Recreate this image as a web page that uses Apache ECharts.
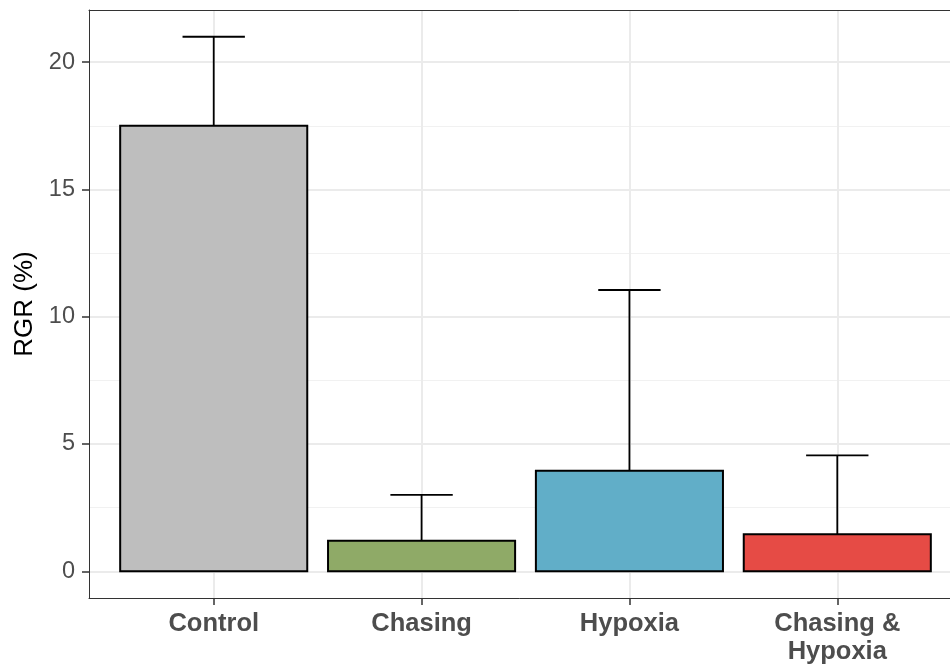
<!DOCTYPE html>
<html>
<head>
<meta charset="utf-8">
<script src="https://cdn.jsdelivr.net/npm/echarts@6/dist/echarts.min.js"></script>
<style>html,body{margin:0;padding:0;background:#fff;}#c{width:950px;height:667px;}</style>
</head>
<body>
<div id="c"></div>
<script>
const categories = ['Control', 'Chasing', 'Hypoxia', 'Chasing &\nHypoxia'];
const means = [17.5, 1.2, 3.95, 1.45];
const upper = [21.0, 3.0, 11.05, 4.55];
const yTicks = [0, 5, 10, 15, 20];
const yMinor = [2.5, 7.5, 12.5, 17.5];
const barColors = ['#BEBEBE', '#8FAA67', '#61AEC8', '#E64B45'];

const positions = categories.map((c, k) => k + 1);
const rows = categories.map((c, k) => [k + 1, means[k], upper[k]]);

const chart = echarts.init(document.getElementById('c'), null, {renderer: 'canvas'});
const font = 'Liberation Sans, Arial, sans-serif';
const border = {show: true, onZero: false, lineStyle: {color: '#333', width: 1}};
chart.setOption({
  animation: false,
  backgroundColor: '#fff',
  grid: {left: 89, top: 10, width: 873, height: 588, outerBoundsMode: 'none', containLabel: false, show: false},
  xAxis: [{
    type: 'value', min: 0.4, max: 4.6, position: 'bottom',
    axisLine: border,
    axisTick: {show: true, length: 7, customValues: positions, lineStyle: {color: '#333', width: 1.5}},
    axisLabel: {customValues: positions, margin: 12, color: '#4D4D4D', fontFamily: font, fontSize: 25.5, fontWeight: 'bold', lineHeight: 28,
      formatter: v => categories[Math.round(v) - 1]},
    splitLine: {show: true, lineStyle: {color: '#EBEBEB', width: 2}}
  }, {
    type: 'value', min: 0.4, max: 4.6, position: 'top',
    axisLine: border, axisTick: {show: false}, axisLabel: {show: false}, splitLine: {show: false}
  }],
  yAxis: [{
    type: 'value', min: -1.05, max: 22.05,
    name: 'RGR (%)', nameLocation: 'middle', nameGap: 48, nameRotate: 90,
    nameTextStyle: {color: '#000', fontFamily: font, fontSize: 26},
    axisLine: border,
    axisTick: {show: true, length: 7, customValues: yTicks, lineStyle: {color: '#333', width: 1.5}},
    axisLabel: {customValues: yTicks, margin: 14, color: '#4D4D4D', fontFamily: font, fontSize: 23.5},
    splitLine: {show: true, lineStyle: {color: '#EBEBEB', width: 2}}
  }, {
    type: 'value', min: -1.05, max: 22.05, position: 'left',
    axisLine: {show: false},
    axisTick: {show: false, customValues: yMinor},
    axisLabel: {show: false, customValues: yMinor},
    splitLine: {show: true, lineStyle: {color: '#F1F1F1', width: 1}}
  }],
  series: [{
    type: 'custom', yAxisIndex: 0, z: 3,
    data: rows,
    renderItem: function (params, api) {
      const x = api.value(0), m = api.value(1), u = api.value(2);
      const top = api.coord([x, u]);
      const base = api.coord([x, m]);
      const wl = api.coord([x - 0.15, u]);
      const wr = api.coord([x + 0.15, u]);
      const st = {stroke: '#000', lineWidth: 1.8};
      return {type: 'group', children: [
        {type: 'line', shape: {x1: base[0], y1: base[1], x2: top[0], y2: top[1]}, style: st},
        {type: 'line', shape: {x1: wl[0], y1: wl[1], x2: wr[0], y2: wr[1]}, style: st}
      ]};
    }
  }, {
    type: 'custom', yAxisIndex: 0, z: 4,
    data: rows,
    renderItem: function (params, api) {
      const x = api.value(0), m = api.value(1);
      const p0 = api.coord([x - 0.45, m]);
      const p1 = api.coord([x + 0.45, 0]);
      return {type: 'rect', shape: {x: p0[0], y: p0[1], width: p1[0] - p0[0], height: p1[1] - p0[1]},
        style: {fill: barColors[params.dataIndex], stroke: '#000', lineWidth: 2}};
    }
  }]
});
</script>
</body>
</html>
